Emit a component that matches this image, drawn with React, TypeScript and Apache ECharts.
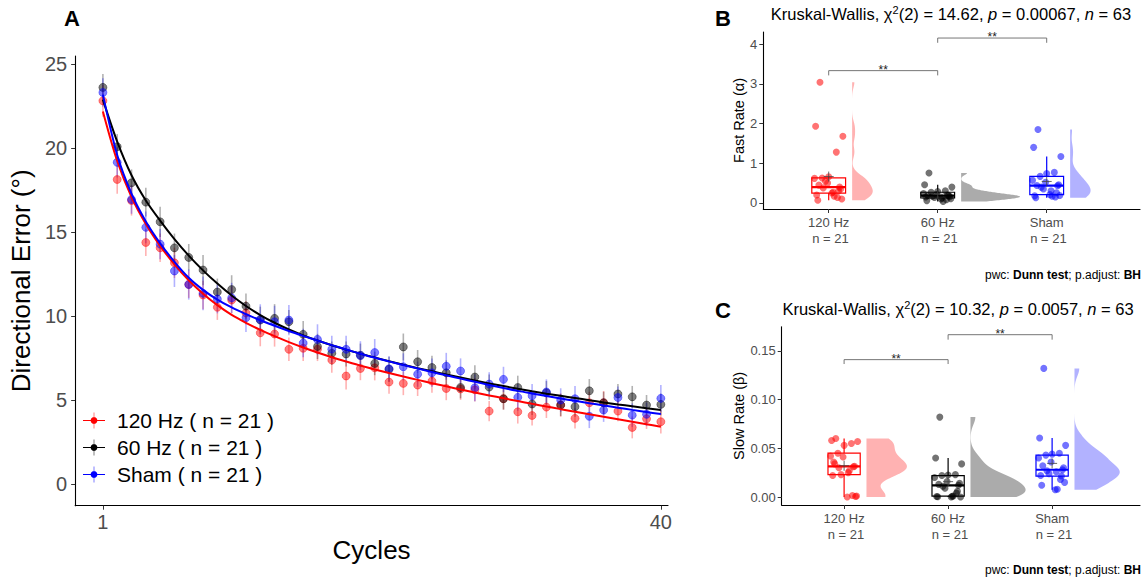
import React, { useEffect, useRef } from "react";
import * as echarts from "echarts";

const FONT = "'Liberation Sans', Arial, Helvetica, sans-serif";

// ---------------- Panel A data ----------------
const cycles = [1, 2, 3, 4, 5, 6, 7, 8, 9, 10, 11, 12, 13, 14, 15, 16, 17, 18, 19, 20,
  21, 22, 23, 24, 25, 26, 27, 28, 29, 30, 31, 32, 33, 34, 35, 36, 37, 38, 39, 40];

const meanHz120 = [22.83, 18.15, 16.9, 14.4, 14.08, 13.19, 11.9, 11.27, 10.54, 10.97,
  10.21, 9.02, 8.95, 8.04, 8.1, 8.04, 7.4, 6.45, 6.9, 6.94,
  6.09, 6.01, 5.91, 6.15, 5.71, 5.68, 5.63, 4.36, 5.1, 4.32,
  4.1, 4.6, 4.72, 3.93, 4.86, 4.86, 4.36, 3.39, 3.9, 3.73];
const meanHz60 = [23.63, 20.1, 17.95, 16.8, 15.63, 14.08, 13.51, 12.76, 11.45, 11.6,
  10.61, 9.78, 9.88, 9.68, 8.93, 8.21, 7.8, 7.76, 7.68, 7.2,
  6.85, 8.18, 7.3, 6.96, 6.64, 5.77, 6.39, 5.79, 5.1, 5.77,
  4.78, 5.45, 4.72, 4.62, 5.57, 4.86, 5.38, 5.21, 4.72, 4.76];
const meanSham = [23.33, 19.17, 16.96, 15.3, 14.3, 12.7, 11.9, 11.37, 11.03, 11.1,
  9.92, 9.82, 9.68, 9.78, 8.41, 8.63, 8.05, 8.04, 7.67, 7.85,
  6.88, 7.0, 6.56, 6.64, 7.03, 6.75, 5.75, 5.97, 6.25, 5.18,
  5.27, 5.5, 5.02, 5.1, 4.05, 4.42, 5.17, 4.12, 4.17, 5.12];

const seHz120 = [0.95, 0.85, 0.9, 0.8, 0.85, 0.9, 0.8, 0.85, 0.75, 0.8,
  0.7, 0.8, 0.75, 0.7, 0.75, 0.7, 0.75, 0.8, 0.7, 0.75,
  0.7, 0.7, 0.65, 0.7, 0.7, 0.65, 0.7, 0.6, 0.65, 0.7,
  0.6, 0.65, 0.7, 0.6, 0.65, 0.7, 0.6, 0.65, 0.6, 0.7];
const seHz60 = [0.8, 0.75, 0.8, 0.85, 0.9, 0.85, 0.8, 0.9, 0.8, 0.85,
  0.75, 0.8, 0.85, 0.7, 0.8, 0.75, 0.7, 0.75, 0.7, 0.7,
  0.75, 0.8, 0.7, 0.7, 0.75, 0.65, 0.7, 0.75, 0.65, 0.7,
  0.65, 0.7, 0.65, 0.6, 0.7, 0.65, 0.6, 0.65, 0.6, 0.65];
const seSham = [0.85, 0.9, 0.85, 0.95, 0.9, 0.95, 0.9, 1.0, 0.85, 0.9,
  0.85, 0.9, 0.95, 0.9, 0.85, 0.9, 0.8, 0.8, 0.85, 0.8,
  0.75, 0.8, 0.75, 0.85, 0.8, 0.75, 0.8, 0.7, 0.75, 0.8,
  0.7, 0.75, 0.7, 0.75, 0.7, 0.7, 0.65, 0.7, 0.7, 0.8];

// fitted curves, read at every cycle
const fitHz120 = [22.2, 19.25, 17.1, 15.5, 14.2, 13.1, 12.15, 11.35, 10.67, 10.09,
  9.62, 9.2, 8.82, 8.47, 8.15, 7.85, 7.57, 7.31, 7.07, 6.84,
  6.625, 6.42, 6.22, 6.025, 5.835, 5.65, 5.47, 5.295, 5.125, 4.96,
  4.795, 4.635, 4.478, 4.324, 4.172, 4.022, 3.872, 3.724, 3.577, 3.432];
const fitHz60 = [22.9, 20.4, 18.4, 16.9, 15.7, 14.6, 13.62, 12.74, 11.95, 11.24,
  10.62, 10.08, 9.62, 9.22, 8.87, 8.56, 8.28, 8.02, 7.78, 7.55,
  7.33, 7.12, 6.92, 6.73, 6.54, 6.36, 6.18, 6.01, 5.85, 5.69,
  5.54, 5.4, 5.27, 5.14, 5.01, 4.88, 4.76, 4.65, 4.53, 4.42];
const fitSham = [23.2, 19.6, 17.3, 15.65, 14.35, 13.25, 12.3, 11.58, 11.0, 10.53,
  10.13, 9.77, 9.44, 9.13, 8.84, 8.56, 8.29, 8.03, 7.78, 7.54,
  7.32, 7.105, 6.895, 6.69, 6.49, 6.295, 6.105, 5.92, 5.74, 5.565,
  5.41, 5.26, 5.114, 4.972, 4.833, 4.697, 4.564, 4.434, 4.307, 4.183];

const legendNames = ["120 Hz ( n = 21 )", "60 Hz ( n = 21 )", "Sham ( n = 21 )"];

// ---------------- Panels B & C data ----------------
const groups = ["120 Hz", "60 Hz", "Sham"];
const groupN = ["n = 21", "n = 21", "n = 21"];

const fastHz120 = [3.04, 0.4, 1.93, 0.25, 1.68, 0.55, 1.28, 0.07, 0.66, 0.35, 0.63, 0.17, 0.62, 0.3, 0.5, 0.1, 0.45, 0.27, 0.38, 0.14, 0.2];
const fastHz60 = [0.755, 0.185, 0.46, 0.1, 0.4, 0.14, 0.31, 0.06, 0.29, 0.16, 0.27, 0.04, 0.24, 0.2, 0.21, 0.11, 0.19, 0.126, 0.17, 0.08, 0.15];
const fastSham = [1.85, 0.436, 1.4, 0.21, 1.17, 0.35, 0.77, 0.13, 0.74, 0.46, 0.67, 0.17, 0.57, 0.26, 0.52, 0.19, 0.44, 0.31, 0.4, 0.15, 0.18];

const slowHz120 = [0.06, 0.0315, 0.058, 0.0, 0.057, 0.023, 0.055, 0.036, 0.053, 0.0005, 0.045, 0.027, 0.042, 0.031, 0.041, 0.001, 0.034, 0.025, 0.03, 0.0015, 0.022];
const slowHz60 = [0.082, 0.012, 0.04, 0.0, 0.034, 0.009, 0.023, 0.0003, 0.0225, 0.014, 0.022, 0.001, 0.02, 0.006, 0.016, 0.0, 0.013, 0.0008, 0.011, 0.004, 0.0005];
const slowSham = [0.132, 0.028, 0.0605, 0.0075, 0.053, 0.024, 0.045, 0.012, 0.044, 0.03, 0.043, 0.008, 0.04, 0.0215, 0.036, 0.015, 0.032, 0.026, 0.027, 0.018, 0.022];

const bracketsB = [[1, 2, 3.33, 3.21], [2, 3, 4.15, 4.03]];
const bracketsC = [[1, 2, 0.141, 0.1365], [2, 3, 0.1666, 0.1615]];
const bracketLabel = "**";

// ---------------- styling ----------------
const lineColors = ["#FF0000", "#000000", "#0000FF"];
const violinFills = ["rgba(255,0,0,0.3)", "rgba(0,0,0,0.33)", "rgba(0,0,255,0.3)"];
const jitterPattern = [-0.08, 0.1, -0.12, 0.03, 0.13, -0.03, 0.07, -0.1, 0.0, 0.11, -0.06,
  0.05, -0.13, 0.09, -0.01, 0.12, -0.09, 0.04, -0.05, 0.08, -0.11];

// ---------------- statistics helpers ----------------
function sortAsc(v: number[]) { return [...v].sort((a, b) => a - b); }
function quant(s: number[], p: number) {
  const h = (s.length - 1) * p; const lo = Math.floor(h); const hi = Math.min(lo + 1, s.length - 1);
  return s[lo] + (h - lo) * (s[hi] - s[lo]);
}
function boxStats(v: number[]) {
  const s = sortAsc(v);
  const q1 = quant(s, 0.25), med = quant(s, 0.5), q3 = quant(s, 0.75);
  const iqr = q3 - q1;
  const lo = s.find((x) => x >= q1 - 1.5 * iqr) as number;
  const hi = [...s].reverse().find((x) => x <= q3 + 1.5 * iqr) as number;
  const mean = v.reduce((a, b) => a + b, 0) / v.length;
  return [lo, q1, med, q3, hi, mean];
}
function kde(v: number[], steps = 160) {
  const s = sortAsc(v); const n = s.length;
  const mean = s.reduce((a, b) => a + b, 0) / n;
  const sd = Math.sqrt(s.reduce((a, b) => a + (b - mean) * (b - mean), 0) / (n - 1));
  const iqr = quant(s, 0.75) - quant(s, 0.25);
  let spread = Math.min(sd, iqr / 1.34); if (!(spread > 0)) spread = sd;
  const bw = 0.9 * spread * Math.pow(n, -0.2);
  const a = s[0], b = s[n - 1];
  const out: number[][] = [];
  for (let i = 0; i <= steps; i++) {
    const y = a + ((b - a) * i) / steps;
    let d = 0;
    for (const x of s) { const z = (y - x) / bw; d += Math.exp(-0.5 * z * z); }
    out.push([y, d / (n * bw * Math.sqrt(2 * Math.PI))]);
  }
  return out;
}

// ---------------- series builders ----------------
function panelASeries(idx: number, means: number[], ses: number[], fits: number[]) {
  const color = lineColors[idx];
  const name = legendNames[idx];
  return [
    {
      type: "custom", name, xAxisIndex: 0, yAxisIndex: 0, silent: true, z: 2,
      itemStyle: { color },
      encode: { x: 0, y: [1, 2] },
      data: cycles.map((c, i) => [c, means[i] - ses[i], means[i] + ses[i]]),
      renderItem: (_p: any, api: any) => {
        const a = api.coord([api.value(0), api.value(1)]);
        const b = api.coord([api.value(0), api.value(2)]);
        return { type: "line", shape: { x1: a[0], y1: a[1], x2: b[0], y2: b[1] }, style: { stroke: color, opacity: 0.3, lineWidth: 1.6 } };
      },
    },
    {
      type: "scatter", name, xAxisIndex: 0, yAxisIndex: 0, z: 3, silent: true,
      symbolSize: 8,
      itemStyle: { color, opacity: 0.5, borderColor: color, borderWidth: 0.8 },
      data: cycles.map((c, i) => [c, means[i]]),
    },
    {
      type: "line", name, xAxisIndex: 0, yAxisIndex: 0, z: 4, silent: true,
      smooth: 0.3, showSymbol: false, symbol: "none",
      lineStyle: { color, width: 2 }, itemStyle: { color },
      data: cycles.map((c, i) => [c, fits[i]]),
    },
  ];
}

function panelBoxSeries(gridIdx: number, sets: number[][], densTarget: number, brackets: number[][]) {
  const out: any[] = [];
  const dens = sets.map((v) => kde(v));
  const maxD = Math.max(...dens.map((d) => Math.max(...d.map((p) => p[1]))));
  const k = densTarget / maxD;
  // violins
  sets.forEach((_v, gi) => {
    const cat = gi + 1;
    const dd = dens[gi];
    out.push({
      type: "custom", xAxisIndex: gridIdx, yAxisIndex: gridIdx, silent: true, z: 1,
      data: [[cat, dd[0][0]]],
      encode: { x: 0, y: 1 },
      renderItem: (_p: any, api: any) => {
        const x0 = cat + 0.215;
        const pts = [api.coord([x0, dd[0][0]])];
        dd.forEach((p) => pts.push(api.coord([x0 + p[1] * k, p[0]])));
        pts.push(api.coord([x0, dd[dd.length - 1][0]]));
        return { type: "polygon", shape: { points: pts }, style: { fill: violinFills[gi], stroke: "none" } };
      },
    });
  });
  // boxes
  const stats = sets.map((v, gi) => [gi + 1, ...boxStats(v)]);
  out.push({
    type: "custom", xAxisIndex: gridIdx, yAxisIndex: gridIdx, silent: true, z: 2,
    data: stats,
    encode: { x: 0, y: [1, 2, 3, 4, 5] },
    renderItem: (p: any, api: any) => {
      const color = lineColors[p.dataIndex];
      const x = api.value(0);
      const lo = api.value(1), q1 = api.value(2), med = api.value(3), q3 = api.value(4), hi = api.value(5);
      const half = 0.155;
      const tl = api.coord([x - half, q3]);
      const br = api.coord([x + half, q1]);
      const mL = api.coord([x - half, med]);
      const mR = api.coord([x + half, med]);
      const c = api.coord([x, q3]);
      const cHi = api.coord([x, hi]);
      const cQ1 = api.coord([x, q1]);
      const cLo = api.coord([x, lo]);
      const st = { stroke: color, lineWidth: 1.2, fill: "none" };
      return {
        type: "group",
        children: [
          { type: "line", shape: { x1: c[0], y1: c[1], x2: cHi[0], y2: cHi[1] }, style: st },
          { type: "line", shape: { x1: cQ1[0], y1: cQ1[1], x2: cLo[0], y2: cLo[1] }, style: st },
          { type: "rect", shape: { x: tl[0], y: tl[1], width: br[0] - tl[0], height: br[1] - tl[1] }, style: st },
          { type: "line", shape: { x1: mL[0], y1: mL[1], x2: mR[0], y2: mR[1] }, style: { stroke: color, lineWidth: 2.2 } },
        ],
      };
    },
  });
  // jittered points
  sets.forEach((v, gi) => {
    out.push({
      type: "scatter", xAxisIndex: gridIdx, yAxisIndex: gridIdx, silent: true, z: 3,
      symbolSize: 7,
      itemStyle: { color: lineColors[gi], opacity: 0.55 },
      data: v.map((y, i) => [gi + 1 + jitterPattern[i % jitterPattern.length], y]),
    });
  });
  // mean markers
  out.push({
    type: "custom", xAxisIndex: gridIdx, yAxisIndex: gridIdx, silent: true, z: 4,
    data: stats.map((s) => [s[0], s[6]]),
    encode: { x: 0, y: 1 },
    renderItem: (_p: any, api: any) => {
      const c = api.coord([api.value(0), api.value(1)]);
      const st = { stroke: "#444", lineWidth: 1, opacity: 0.8 };
      return {
        type: "group",
        children: [
          { type: "line", shape: { x1: c[0] - 5, y1: c[1], x2: c[0] + 5, y2: c[1] }, style: st },
          { type: "line", shape: { x1: c[0], y1: c[1] - 5, x2: c[0], y2: c[1] + 5 }, style: st },
        ],
      };
    },
  });
  // significance brackets
  out.push({
    type: "custom", xAxisIndex: gridIdx, yAxisIndex: gridIdx, silent: true, z: 5,
    data: brackets,
    encode: { x: [0, 1], y: [2, 3] },
    renderItem: (_p: any, api: any) => {
      const x1 = api.value(0), x2 = api.value(1), y = api.value(2), yd = api.value(3);
      const a = api.coord([x1, yd]), b = api.coord([x1, y]), c = api.coord([x2, y]), d = api.coord([x2, yd]);
      const m = api.coord([(x1 + x2) / 2, y]);
      return {
        type: "group",
        children: [
          { type: "polyline", shape: { points: [a, b, c, d] }, style: { stroke: "#666", lineWidth: 0.9, fill: "none" } },
          { type: "text", x: m[0], y: m[1] + 5, style: { text: bracketLabel, align: "center", verticalAlign: "bottom", fontSize: 12, fontFamily: FONT, fill: "#222" } },
        ],
      };
    },
  });
  return out;
}

function titleRich(chi: string, p: string, n: string) {
  return `{a|Kruskal-Wallis, χ}{s|2}{a|(2) = ${chi}, }{i|p}{a| = ${p}, }{i|n}{a| = ${n}}`;
}
const titleRichStyles = {
  a: { fontSize: 16.5, fontFamily: FONT, fill: "#000", lineHeight: 20 },
  i: { fontSize: 16.5, fontFamily: FONT, fill: "#000", fontStyle: "italic", lineHeight: 20 },
  s: { fontSize: 11, fontFamily: FONT, fill: "#000", verticalAlign: "top", lineHeight: 11 },
};
const pwcRich = "{a|pwc: }{b|Dunn test}{a|; p.adjust: }{b|BH}";
const pwcStyles = {
  a: { fontSize: 12, fontFamily: FONT, fill: "#000" },
  b: { fontSize: 12, fontFamily: FONT, fill: "#000", fontWeight: "bold" },
};

const axisBase = (fs: number) => ({
  axisLine: { show: true, onZero: false, lineStyle: { color: "#000", width: 1.1 } },
  axisTick: { show: true, length: 4, lineStyle: { color: "#333", width: 1 } },
  splitLine: { show: false },
  axisLabel: { fontSize: fs, color: "#4D4D4D", fontFamily: FONT },
});

export default function App() {
  const ref = useRef<HTMLDivElement>(null);
  useEffect(() => {
    const chart = echarts.init(ref.current as HTMLDivElement, null, { renderer: "svg" });
    const baseA = axisBase(20);
    const baseBC = axisBase(13);
    const option: any = {
      animation: false,
      backgroundColor: "#fff",
      textStyle: { fontFamily: FONT },
      grid: [
        { left: 71, top: 56, width: 597, height: 449.7 },
        { left: 763.3, top: 32, width: 376.7, height: 177 },
        { left: 781.7, top: 326.7, width: 358.3, height: 178.3 },
      ],
      xAxis: [
        {
          gridIndex: 0, type: "value", min: -0.94, max: 40.5, ...baseA,
          axisTick: { ...baseA.axisTick, customValues: [1, 40] },
          axisLabel: { ...baseA.axisLabel, customValues: [1, 40], margin: 6 },
          name: "Cycles", nameLocation: "middle", nameGap: 29,
          nameTextStyle: { fontSize: 26, color: "#000", fontFamily: FONT },
        },
        {
          gridIndex: 1, type: "value", min: 0.4, max: 3.856, ...baseBC,
          axisTick: { ...baseBC.axisTick, customValues: [1, 2, 3] },
          axisLabel: {
            ...baseBC.axisLabel, customValues: [1, 2, 3], margin: 6, lineHeight: 15.5,
            formatter: (v: number) => `${groups[Math.round(v) - 1]}\n ${groupN[Math.round(v) - 1]}`,
          },
        },
        {
          gridIndex: 2, type: "value", min: 0.4, max: 3.845, ...baseBC,
          axisTick: { ...baseBC.axisTick, customValues: [1, 2, 3] },
          axisLabel: {
            ...baseBC.axisLabel, customValues: [1, 2, 3], margin: 6, lineHeight: 15.5,
            formatter: (v: number) => `${groups[Math.round(v) - 1]}\n ${groupN[Math.round(v) - 1]}`,
          },
        },
      ],
      yAxis: [
        {
          gridIndex: 0, type: "value", min: -1.27, max: 25.5, ...baseA,
          axisTick: { ...baseA.axisTick, customValues: [0, 5, 10, 15, 20, 25] },
          axisLabel: { ...baseA.axisLabel, customValues: [0, 5, 10, 15, 20, 25], margin: 8 },
          name: "Directional Error (°)", nameLocation: "middle", nameGap: 24,
          nameTextStyle: { fontSize: 26, color: "#000", fontFamily: FONT },
        },
        {
          gridIndex: 1, type: "value", min: -0.151, max: 4.302, ...baseBC,
          axisTick: { ...baseBC.axisTick, customValues: [0, 1, 2, 3, 4] },
          axisLabel: { ...baseBC.axisLabel, customValues: [0, 1, 2, 3, 4], margin: 6 },
          name: "Fast Rate (α)", nameLocation: "middle", nameGap: 16,
          nameTextStyle: { fontSize: 14.5, color: "#000", fontFamily: FONT },
        },
        {
          gridIndex: 2, type: "value", min: -0.0082, max: 0.1748, ...baseBC,
          axisTick: { ...baseBC.axisTick, customValues: [0, 0.05, 0.1, 0.15] },
          axisLabel: {
            ...baseBC.axisLabel, customValues: [0, 0.05, 0.1, 0.15], margin: 6,
            formatter: (v: number) => v.toFixed(2),
          },
          name: "Slow Rate (β)", nameLocation: "middle", nameGap: 34,
          nameTextStyle: { fontSize: 14.5, color: "#000", fontFamily: FONT },
        },
      ],
      legend: {
        left: 78, top: 405, orient: "vertical", selectedMode: false,
        itemWidth: 22, itemHeight: 16, itemGap: 6,
        icon: "path://M0,7.4H22V8.6H0Z M11,4.6A3.4,3.4 0 1 1 10.99,4.6Z M10.75,0H11.25V16H10.75Z",
        textStyle: { fontSize: 21, color: "#000", fontFamily: FONT, lineHeight: 20, padding: [0, 0, 0, 7] },
        data: legendNames.map((n, i) => ({ name: n, itemStyle: { color: lineColors[i], opacity: 1 } })),
      },
      graphic: [
        { type: "text", x: 72, y: 18, style: { text: "A", fontSize: 22, fontWeight: "bold", fontFamily: FONT, fill: "#000", align: "center", verticalAlign: "middle" } },
        { type: "text", x: 723, y: 18, style: { text: "B", fontSize: 22, fontWeight: "bold", fontFamily: FONT, fill: "#000", align: "center", verticalAlign: "middle" } },
        { type: "text", x: 723, y: 310, style: { text: "C", fontSize: 22, fontWeight: "bold", fontFamily: FONT, fill: "#000", align: "center", verticalAlign: "middle" } },
        { type: "text", x: 951, y: 14, style: { text: titleRich("14.62", "0.00067", "63"), rich: titleRichStyles, align: "center", verticalAlign: "middle" } },
        { type: "text", x: 958, y: 309, style: { text: titleRich("10.32", "0.0057", "63"), rich: titleRichStyles, align: "center", verticalAlign: "middle" } },
        { type: "text", x: 1141, y: 275, style: { text: pwcRich, rich: pwcStyles, align: "right", verticalAlign: "middle" } },
        { type: "text", x: 1141, y: 570, style: { text: pwcRich, rich: pwcStyles, align: "right", verticalAlign: "middle" } },
      ],
      series: [
        ...panelASeries(0, meanHz120, seHz120, fitHz120),
        ...panelASeries(1, meanHz60, seHz60, fitHz60),
        ...panelASeries(2, meanSham, seSham, fitSham),
        ...panelBoxSeries(1, [fastHz120, fastHz60, fastSham], 0.54, bracketsB),
        ...panelBoxSeries(2, [slowHz120, slowHz60, slowSham], 0.53, bracketsC),
      ],
    };
    chart.setOption(option);
    return () => chart.dispose();
  }, []);
  return <div ref={ref} style={{ position: "absolute", left: 0, top: 0, width: 1146, height: 580 }} />;
}
